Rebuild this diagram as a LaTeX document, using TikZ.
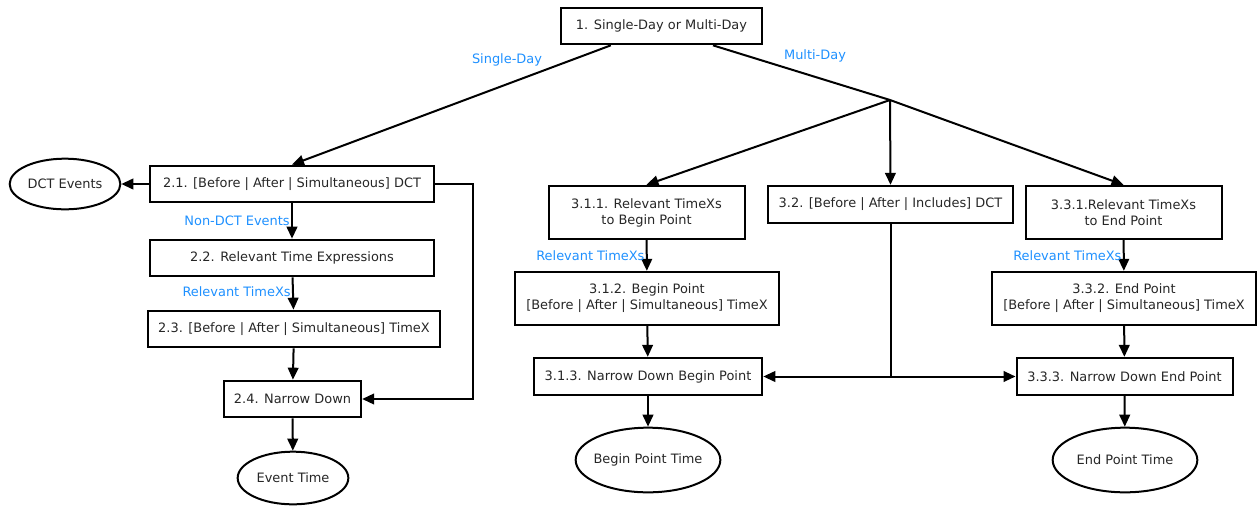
\documentclass[tikz,border=0pt]{standalone}
\usepackage{fontspec}
\setmainfont{DejaVu Sans}
\usetikzlibrary{shapes.geometric}
\usetikzlibrary{arrows.meta}

\begin{document}
\begin{tikzpicture}[x=0.75pt,y=-0.75pt,
  step box/.style={rectangle,draw=black,line width=1.5pt,inner sep=0pt,align=center,
    text=black!85,font=\fontsize{9.7}{12}\selectfont},
  end oval/.style={ellipse,draw=black,line width=1.5pt,inner xsep=-4pt,inner ysep=0pt,align=center,
    text=black!85,font=\fontsize{9.7}{12}\selectfont},
  arr/.style={draw=black,line width=1.5pt,-{Triangle[length=9pt,width=8pt]}},
  lbl/.style={text={rgb,255:red,30;green,144;blue,255},font=\fontsize{9.7}{12}\selectfont,inner sep=1pt}]
\useasboundingbox (0,0) rectangle (1260,508);

% question at the top
\node[step box,minimum width=151pt,minimum height=27.5pt] (q1) at (661.5,26) {1. Single-Day or Multi-Day};

% single-day branch
\node[step box,minimum width=213.5pt,minimum height=27.5pt] (s21) at (292,184) {2.1. [Before | After | Simultaneous] DCT};
\node[end oval,minimum width=83pt,minimum height=38pt] (dctev) at (65,184) {DCT Events};
\node[step box,minimum width=213.5pt,minimum height=27.5pt] (s22) at (292,258) {2.2. Relevant Time Expressions};
\node[step box,minimum width=219.5pt,minimum height=27.5pt] (s23) at (294,329) {2.3. [Before | After | Simultaneous] TimeX};
\node[step box,minimum width=103pt,minimum height=27.5pt] (s24) at (292.5,399) {2.4. Narrow Down};
\node[end oval,minimum width=83pt,minimum height=39.5pt] (evtime) at (293,478) {Event Time};

% multi-day branch
\coordinate (split) at (890,100);
\node[step box,minimum width=147pt,minimum height=40pt] (m311) at (646.5,212.5) {3.1.1. Relevant TimeXs\\to Begin Point};
\node[step box,minimum width=198.5pt,minimum height=40pt] (m312) at (647,298.5) {3.1.2. Begin Point\\{}[Before | After | Simultaneous] TimeX};
\node[step box,minimum width=171.5pt,minimum height=28pt] (m313) at (648,376.5) {3.1.3. Narrow Down Begin Point};
\node[end oval,minimum width=108.5pt,minimum height=48.5pt] (begtime) at (648,460) {Begin Point Time};
\node[step box,minimum width=184pt,minimum height=28pt] (m32) at (890.5,204.5) {3.2. [Before | After | Includes] DCT};
\node[step box,minimum width=147pt,minimum height=40pt] (m331) at (1123.5,212.5) {3.3.1.Relevant TimeXs\\to End Point};
\node[step box,minimum width=198.5pt,minimum height=40pt] (m332) at (1124,298.5) {3.3.2. End Point\\{}[Before | After | Simultaneous] TimeX};
\node[step box,minimum width=162pt,minimum height=28pt] (m333) at (1124.5,376.5) {3.3.3. Narrow Down End Point};
\node[end oval,minimum width=108.5pt,minimum height=48.5pt] (endtime) at (1125,460) {End Point Time};
\coordinate (join) at (890.5,376.5);

% connectors
\draw[arr] ([xshift=-38pt]q1.south) -- (s21.north);
\node[lbl] (lsingle) at (507,60) {Single-Day};
\draw[line width=1.5pt] ([xshift=38.6pt]q1.south) -- (split);
\node[lbl] (lmulti) at (815,56) {Multi-Day};

\draw[arr] (s21.west) -- (dctev.east);
\draw[arr] (s21) -- node[lbl,left,pos=0.5] {Non-DCT Events} (s22);
\draw[arr] (s22) -- node[lbl,left,pos=0.45] {Relevant TimeXs} (s23);
\draw[arr] (s23) -- (s24);
\draw[arr] (s24) -- (evtime);
\draw[arr] (s21.east) -- ++(38,0) |- (s24.east);

\draw[arr] (split) -- (m311.north);
\draw[arr] (split) -- (m32.north);
\draw[arr] (split) -- (m331.north);
\draw[arr] (m311) -- node[lbl,left,pos=0.5] {Relevant TimeXs} (m312);
\draw[arr] (m312) -- (m313);
\draw[arr] (m313) -- (begtime);
\draw[line width=1.5pt] (m32.south) -- (join);
\draw[arr] (join) -- (m313.east);
\draw[arr] (join) -- (m333.west);
\draw[arr] (m331) -- node[lbl,left,pos=0.5] {Relevant TimeXs} (m332);
\draw[arr] (m332) -- (m333);
\draw[arr] (m333) -- (endtime);
\end{tikzpicture}
\end{document}
